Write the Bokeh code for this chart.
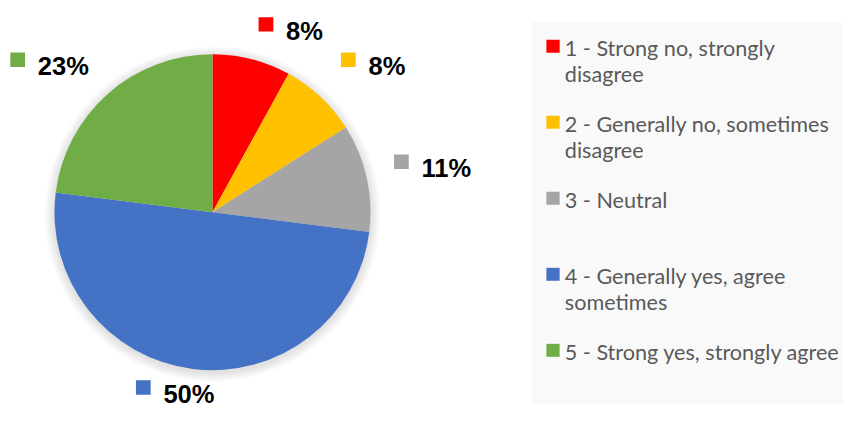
from bokeh.plotting import figure
from bokeh.models import Range1d, ColumnDataSource
from bokeh.embed import file_html
from bokeh.resources import INLINE
from bokeh.core.properties import value
import numpy as np

# ---- data ----
categories = ["1 - Strong no, strongly disagree",
              "2 - Generally no, sometimes disagree",
              "3 - Neutral",
              "4 - Generally yes, agree sometimes",
              "5 - Strong yes, strongly agree"]
legend_lines = [["1 - Strong no, strongly", "disagree"],
                ["2 - Generally no, sometimes", "disagree"],
                ["3 - Neutral"],
                ["4 - Generally yes, agree", "sometimes"],
                ["5 - Strong yes, strongly agree"]]
percentages = [8, 8, 11, 50, 23]
colors = ["#FF0000", "#FFC000", "#A5A5A5", "#4472C4", "#70AD47"]

# ---- layout (reference pixel coordinates, y measured from top) ----
W, H = 859, 425
FW, FH = 843, 409
cx, cy = 216, 220
R_screen = 158
label_left = [291, 375, 429, 166, 38]
label_mid = [31.7, 68.5, 174.5, 409, 68.5]   # vertical centre of the digits

def Y(y):
    return H - y

p = figure(width=FW, height=FH, output_backend="svg", toolbar_location=None,
           x_range=Range1d(0, W), y_range=Range1d(0, H),
           x_axis_type=None, y_axis_type=None, min_border=0,
           outline_line_color=None, background_fill_color="white", border_fill_color="white")
p.grid.visible = False

# legend background
p.quad(left=542, right=900, top=Y(22), bottom=Y(419), fill_color="#f9f9f9", line_color=None)

# shadow
for k in range(10):
    p.circle(x=cx, y=Y(cy + 2), radius=R_screen + 10 - k, radius_units="screen",
             fill_color="black", fill_alpha=0.012, line_color=None)

# pie
vals = np.array(percentages, dtype=float)
frac = vals / vals.sum()
c1 = np.cumsum(frac)
c0 = c1 - frac
start = np.pi / 2 - c1 * 2 * np.pi
end = np.pi / 2 - c0 * 2 * np.pi
src = ColumnDataSource(dict(start=start, end=end, color=colors))
p.wedge(x=cx, y=Y(cy), radius=R_screen, radius_units="screen", start_angle="start", end_angle="end",
        fill_color="color", line_color=None, source=src)

# data labels
for i, pct in enumerate(percentages):
    tx, tm = label_left[i], label_mid[i]
    top = tm - 9.4
    p.rect(x=tx - 20.5, y=Y(top + 2.5), width=15, height=15, fill_color=colors[i], line_color=None)
    p.text(x=[tx], y=[Y(tm)], text=[f"{pct}%"], text_font=value("Liberation Sans"),
           text_font_style="bold", text_font_size="25.5px", text_color="black",
           text_baseline="middle", text_align="left")

# legend
for i, lines in enumerate(legend_lines):
    m = 49 + 79 * i
    p.rect(x=563, y=Y(m - 1.5), width=13.5, height=13.5, fill_color=colors[i], line_color=None)
    for j, ln in enumerate(lines):
        p.text(x=[575], y=[Y(m + 27.5 * j)], text=[ln], text_font=value("Lato"),
               text_font_size="21.6px", text_color="#595959",
               text_baseline="middle", text_align="left")

open("out.html", "w").write(file_html(p, INLINE))
